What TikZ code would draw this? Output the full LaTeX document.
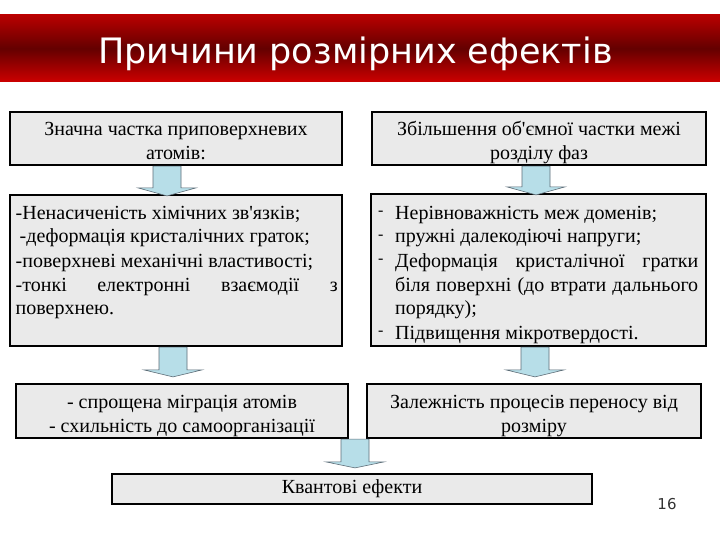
\documentclass[tikz,border=0pt]{standalone}
\usepackage{fontspec}
\setmainfont{Liberation Serif}[Ligatures=TeXOff]
\newfontfamily\titlefont{DejaVu Sans}
\usetikzlibrary{calc}
\definecolor{titletop}{RGB}{185,0,0}
\definecolor{titlemid}{RGB}{100,0,0}
\definecolor{titlebot}{RGB}{205,0,0}
\definecolor{boxfill}{RGB}{234,234,234}
\definecolor{arrowfill}{RGB}{183,222,232}
\definecolor{arrowline}{RGB}{95,110,120}
\hyphenpenalty=10000
\exhyphenpenalty=10000
\newcommand\boxfont{\fontsize{20}{24}\selectfont}
\newcommand\topstrut{\rule{0pt}{23pt}}
\newcommand\botstrut{\rule[-5pt]{0pt}{5pt}}
\newcommand\itm[1]{\hangindent=17pt\hangafter=1\noindent\makebox[17pt][l]{\raisebox{3.5pt}{\fontsize{16}{16}\selectfont -}}#1\par}
% #1 name, #2 x, #3 from node, #4 to node, #5 gap above target, #6 head height
\newcommand\blockarrow[6]{%
  \coordinate (#1s) at (#3.south -| #2,0);
  \coordinate (#1t) at ($(#4.north -| #2,0)+(0,-#5)$);
  \draw[blockarr] ($(#1s)+(-14,0)$) -- ($(#1t)+(-14,-#6)$) -- ($(#1t)+(-29,-#6)$)
    -- (#1t) -- ($(#1t)+(29,-#6)$) -- ($(#1t)+(14,-#6)$) -- ($(#1s)+(14,0)$) -- cycle;
}
\begin{document}
\begin{tikzpicture}[x=1pt,y=-1pt,
  box/.style={draw=black, line width=2.2pt, fill=boxfill, inner sep=0pt, font=\boxfont, align=center},
  blockarr/.style={fill=arrowfill, draw=arrowline, line width=0.6pt, line join=miter}]
\useasboundingbox (0,0) rectangle (720,540);
\fill[white] (0,0) rectangle (720,540);
% title bar
\shade[top color=titletop, bottom color=titlebot, middle color=titlemid] (0,15) rectangle (720,82);
\node[anchor=base, inner sep=0pt, text=white, font=\titlefont\fontsize{35}{40}\selectfont] (title) at (355.5,64) {Причини розмірних ефектів};
% boxes
\node[box, minimum width=332pt, minimum height=53pt] (b1) at (176,138.5) {\topstrut Значна частка приповерхневих\\атомів:\botstrut};
\node[box, minimum width=334pt, minimum height=53pt] (b2) at (539,138.5) {\topstrut Збільшення об\textquotesingle ємної частки межі\\розділу фаз\botstrut};
\node[box, minimum width=332pt, minimum height=151pt] (b3) at (176,270.5) {};
\node[box, minimum width=335pt, minimum height=152pt] (b4) at (538.5,270) {};
\node[box, minimum width=332pt, minimum height=54pt] (b5) at (182,411) {\topstrut - спрощена міграція атомів\\- схильність до самоорганізації\botstrut};
\node[box, minimum width=334pt, minimum height=54pt] (b6) at (534,411) {\topstrut Залежність процесів переносу від\\розміру\botstrut};
\node[box, minimum width=480pt, minimum height=30pt] (b7) at (352,489) {\rule[-5pt]{0pt}{18pt}Квантові ефекти};
% texts of the tall boxes
\node[anchor=base west, inner sep=0pt, font=\boxfont] (t3) at (15.5,219) {\parbox[t]{322pt}{%
-Ненасиченість хімічних зв\textquotesingle язків;\par
\hspace*{4pt}-деформація кристалічних граток;\par
-поверхневі механічні властивості;\par
-тонкі електронні взаємодії з\linebreak поверхнею.}};
\node[anchor=base west, inner sep=0pt, font=\boxfont] (t4) at (378,219) {\parbox[t]{320pt}{%
\itm{Нерівноважність меж доменів;}
\itm{пружні далекодіючі напруги;}
\itm{Деформація кристалічної гратки\linebreak біля поверхні (до втрати дальнього\linebreak порядку);}
\itm{Підвищення мікротвердості.}}};
% block arrows
\blockarrow{a1}{167}{b1}{b3}{-2}{8}
\blockarrow{a2}{536}{b2}{b4}{-2}{8}
\blockarrow{a3}{173}{b3}{b5}{6}{7}
\blockarrow{a4}{535}{b4}{b6}{6}{7}
\blockarrow{a5}{355}{b5}{b7}{5}{6}
% page number
\node[anchor=base, inner sep=0pt, text=black!80, font=\titlefont\fontsize{15}{18}\selectfont] (pg) at (667,509) {16};
\end{tikzpicture}
\end{document}
